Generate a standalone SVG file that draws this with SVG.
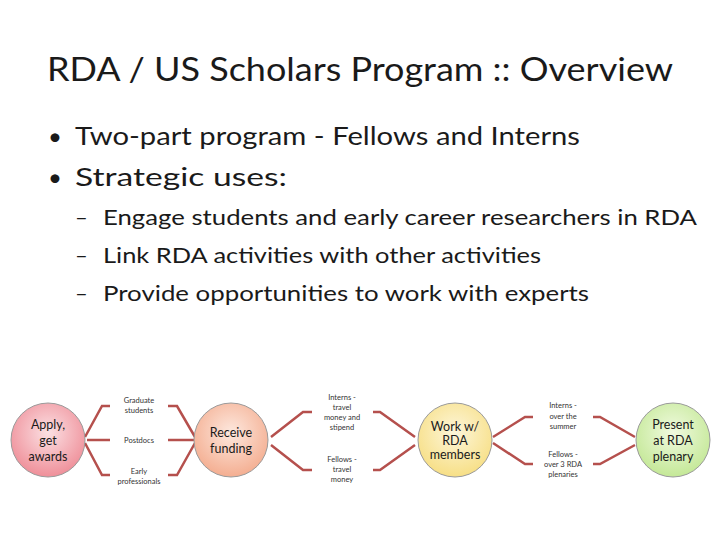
<svg xmlns="http://www.w3.org/2000/svg" width="720" height="540" viewBox="0 0 720 540">
<defs>
<radialGradient id="g1" cx="50%" cy="40%" r="60%"><stop offset="0" stop-color="#fbe0e3"/><stop offset="1" stop-color="#ef8f99"/></radialGradient>
<radialGradient id="g2" cx="50%" cy="40%" r="60%"><stop offset="0" stop-color="#fde8de"/><stop offset="1" stop-color="#f4ae91"/></radialGradient>
<radialGradient id="g3" cx="50%" cy="40%" r="60%"><stop offset="0" stop-color="#fdf6da"/><stop offset="1" stop-color="#f7df86"/></radialGradient>
<radialGradient id="g4" cx="50%" cy="40%" r="60%"><stop offset="0" stop-color="#f0fadf"/><stop offset="1" stop-color="#c4e897"/></radialGradient>
</defs>
<style>
text{font-family:Lato,"Liberation Sans",sans-serif;fill:#1a1a1a}
.c{stroke:#9a9a9a;stroke-width:1}
.n{font-size:12.5px;text-anchor:middle}
.s{font-size:7.5px;text-anchor:middle;fill:#333}
.l{fill:none;stroke:#b5504d;stroke-width:2.5}
</style>
<rect width="720" height="540" fill="#fff"/>
<text x="360" y="81" font-size="33" text-anchor="middle" textLength="626" lengthAdjust="spacingAndGlyphs">RDA / US Scholars Program :: Overview</text>
<text x="48" y="145" font-size="24">•</text>
<text x="75" y="145" font-size="25" textLength="505" lengthAdjust="spacingAndGlyphs">Two-part program - Fellows and Interns</text>
<text x="48" y="186" font-size="24">•</text>
<text x="75" y="186" font-size="25" textLength="212" lengthAdjust="spacingAndGlyphs">Strategic uses:</text>
<text x="75" y="225" font-size="22">–</text>
<text x="103" y="225" font-size="22" textLength="594" lengthAdjust="spacingAndGlyphs">Engage students and early career researchers in RDA</text>
<text x="75" y="263" font-size="22">–</text>
<text x="103" y="263" font-size="22" textLength="438" lengthAdjust="spacingAndGlyphs">Link RDA activities with other activities</text>
<text x="75" y="301" font-size="22">–</text>
<text x="103" y="301" font-size="22" textLength="486" lengthAdjust="spacingAndGlyphs">Provide opportunities to work with experts</text>
<g id="connectors">
<polyline class="l" points="85,437 102,406 110,406"/>
<polyline class="l" points="87,440 110,440"/>
<polyline class="l" points="85,443 102,475 110,475"/>
<polyline class="l" points="168,406 177,406 195,437"/>
<polyline class="l" points="168,440 195,440"/>
<polyline class="l" points="168,475 177,475 195,443"/>
<polyline class="l" points="271,437 303,412 312,412"/>
<polyline class="l" points="271,445 303,470 312,470"/>
<polyline class="l" points="373,412 380,412 415,437"/>
<polyline class="l" points="373,470 380,470 415,445"/>
<polyline class="l" points="493,437 525,417 533,417"/>
<polyline class="l" points="493,443 525,464 533,464"/>
<polyline class="l" points="593,417 600,417 635,437"/>
<polyline class="l" points="593,464 600,464 635,445"/>
</g>
<g id="apply"><circle class="c" cx="48" cy="440" r="37" fill="url(#g1)"/>
<text class="n" x="48" y="429">Apply,</text><text class="n" x="48" y="445">get</text><text class="n" x="48" y="461">awards</text></g>
<g id="receive"><circle class="c" cx="231" cy="440" r="37" fill="url(#g2)"/>
<text class="n" x="231" y="437">Receive</text><text class="n" x="231" y="453">funding</text></g>
<g id="work"><circle class="c" cx="455" cy="440" r="37" fill="url(#g3)"/>
<text class="n" x="455" y="431" font-size="11">Work w/</text><text class="n" x="455" y="445" font-size="11">RDA</text><text class="n" x="455" y="459" font-size="11">members</text></g>
<g id="present"><circle class="c" cx="673" cy="440" r="37" fill="url(#g4)"/>
<text class="n" x="673" y="429">Present</text><text class="n" x="673" y="445">at RDA</text><text class="n" x="673" y="461">plenary</text></g>
<g id="labels">
<text class="s" x="139" y="403">Graduate</text><text class="s" x="139" y="413">students</text>
<text class="s" x="139" y="443">Postdocs</text>
<text class="s" x="139" y="474">Early</text><text class="s" x="139" y="484">professionals</text>
<text class="s" x="342" y="400">Interns -</text><text class="s" x="342" y="410">travel</text><text class="s" x="342" y="420">money and</text><text class="s" x="342" y="430">stipend</text>
<text class="s" x="342" y="462">Fellows -</text><text class="s" x="342" y="472">travel</text><text class="s" x="342" y="482">money</text>
<text class="s" x="563" y="408">Interns -</text><text class="s" x="563" y="419">over the</text><text class="s" x="563" y="429">summer</text>
<text class="s" x="563" y="457">Fellows -</text><text class="s" x="563" y="467">over 3 RDA</text><text class="s" x="563" y="477">plenaries</text>
</g>
</svg>
